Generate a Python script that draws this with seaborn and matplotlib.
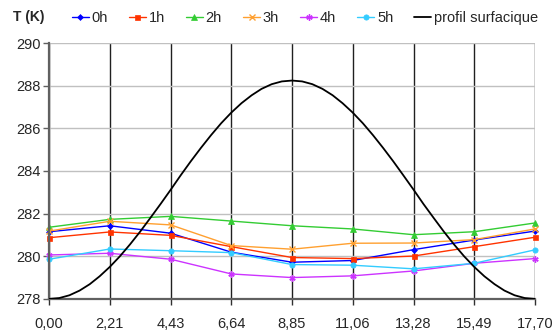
import pandas as pd
import matplotlib
matplotlib.use("Agg")
import matplotlib.pyplot as plt
import seaborn as sns

# ---------------------------------------------------------
# data
# ---------------------------------------------------------
x_pos = [0.00, 2.21, 4.43, 6.64, 8.85, 11.06, 13.28, 15.49, 17.70]
x_labels = ["0,00", "2,21", "4,43", "6,64", "8,85", "11,06", "13,28", "15,49", "17,70"]

t_0h = [281.15, 281.43, 281.08, 280.19, 279.72, 279.80, 280.31, 280.76, 281.18]
t_1h = [280.87, 281.14, 280.98, 280.45, 279.94, 279.89, 280.01, 280.45, 280.89]
t_2h = [281.36, 281.73, 281.87, 281.65, 281.43, 281.28, 281.01, 281.15, 281.56]
t_3h = [281.18, 281.64, 281.47, 280.50, 280.33, 280.61, 280.62, 280.78, 281.28]
t_4h = [280.06, 280.14, 279.86, 279.17, 279.00, 279.08, 279.31, 279.67, 279.89]
t_5h = [279.86, 280.34, 280.26, 280.17, 279.61, 279.58, 279.41, 279.67, 280.30]

# surface profile (black curve), read at small steps along x
surf_x = [0.00, 0.37, 0.74, 1.11, 1.48, 1.84, 2.21, 2.58, 2.95, 3.32, 3.69, 4.06,
          4.43, 4.79, 5.16, 5.53, 5.90, 6.27, 6.64, 7.01, 7.38, 7.74, 8.11, 8.48,
          8.85, 9.22, 9.59, 9.96, 10.33, 10.69, 11.06, 11.43, 11.80, 12.17, 12.54,
          12.91, 13.28, 13.64, 14.01, 14.38, 14.75, 15.12, 15.49, 15.86, 16.23,
          16.59, 16.96, 17.33, 17.70]
surf_t = [278.00, 278.04, 278.17, 278.39, 278.69, 279.06, 279.50, 280.00, 280.56,
          281.16, 281.80, 282.45, 283.12, 283.79, 284.45, 285.08, 285.68, 286.24,
          286.74, 287.18, 287.55, 287.85, 288.07, 288.20, 288.24, 288.20, 288.07,
          287.85, 287.55, 287.18, 286.74, 286.24, 285.68, 285.08, 284.45, 283.79,
          283.12, 282.45, 281.80, 281.16, 280.56, 280.00, 279.50, 279.06, 278.69,
          278.39, 278.17, 278.04, 278.00]

series = ["0h", "1h", "2h", "3h", "4h", "5h"]
values = [t_0h, t_1h, t_2h, t_3h, t_4h, t_5h]
colors = ["#0000FF", "#FF3300", "#33CC33", "#FFA030", "#CC33FF", "#33CCFF"]
markers = ["D", "s", "^", "x", (6, 2, 0), "o"]
msizes = [3.0, 3.6, 3.8, 4.0, 4.5, 3.8]
medge = [0.5, 0.5, 0.5, 1.0, 1.0, 0.5]

sns.set_style("white")
plt.rcParams["font.family"] = ["Liberation Sans", "DejaVu Sans"]

fig = plt.figure(figsize=(5.52, 3.31), dpi=100)
ax = fig.add_axes([0.089, 0.097, 0.880, 0.773])

for name, vals, col, mk, ms, mew in zip(series, values, colors, markers, msizes, medge):
    sns.lineplot(x=x_pos, y=vals, ax=ax, color=col, marker=mk, markersize=ms,
                 markeredgecolor=col, markeredgewidth=mew, linewidth=1,
                 clip_on=False, label=name, legend=False)

sns.lineplot(x=surf_x, y=surf_t, ax=ax, color="black", linewidth=1.3,
             label="profil surfacique", legend=False, zorder=5)

ax.set_xlim(0, 17.70)
ax.set_ylim(278, 290)
ax.set_xticks(x_pos)
ax.set_xticklabels(x_labels)
ax.set_yticks(range(278, 291, 2))

ax.grid(axis="y", color="#C0C0C0", linewidth=1)
ax.grid(axis="x", color="#202020", linewidth=1)
ax.set_axisbelow(True)

for s in ["top", "right"]:
    ax.spines[s].set_visible(False)
ax.spines["left"].set_color("#606060")
ax.spines["left"].set_linewidth(1.6)
ax.spines["bottom"].set_color("#606060")
ax.spines["bottom"].set_linewidth(1.6)

ax.tick_params(axis="y", direction="out", length=4, width=1, color="#606060",
               labelsize=10.5, pad=2, left=True)
ax.tick_params(axis="x", direction="out", length=4, width=1, color="#303030",
               labelsize=10.5, pad=9, bottom=True)

ax.set_xlabel("")
ax.set_ylabel("")

fig.text(0.024, 0.949, "T (K)", fontsize=10, fontweight="bold", va="center")

h, l = ax.get_legend_handles_labels()
fig.legend(h, l, ncol=7, loc="center left", bbox_to_anchor=(0.130, 0.946),
           frameon=False, fontsize=10.5, handlelength=1.15, handletextpad=0.2,
           columnspacing=1.45, borderaxespad=0, borderpad=0)

fig.savefig("out.png", dpi=100)
